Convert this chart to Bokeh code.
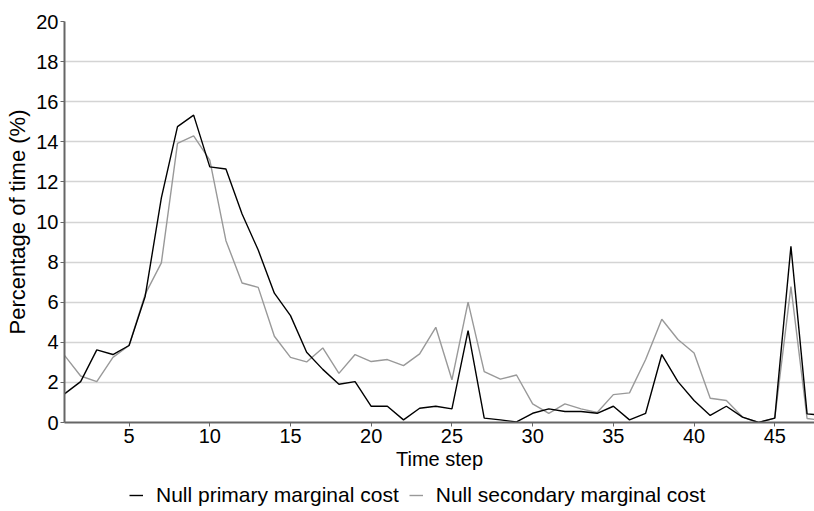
from bokeh.plotting import figure
from bokeh.models import FixedTicker, Range1d, Legend, LegendItem
from bokeh.layouts import column
from bokeh.embed import file_html
from bokeh.resources import INLINE

time_step = list(range(1, 49))
primary = [1.43, 2.04, 3.62, 3.39, 3.84, 6.3, 11.2, 14.76, 15.33, 12.75,
           12.64, 10.4, 8.6, 6.45, 5.33, 3.5, 2.65, 1.91, 2.04, 0.81,
           0.81, 0.13, 0.71, 0.81, 0.68, 4.58, 0.22, 0.13, 0.03, 0.46,
           0.68, 0.55, 0.55, 0.46, 0.81, 0.13, 0.46, 3.39, 2.04, 1.1,
           0.35, 0.81, 0.27, 0.0, 0.22, 8.79, 0.43, 0.35]
secondary = [3.35, 2.32, 2.04, 3.25, 3.84, 6.4, 7.96, 13.92, 14.3, 13.09,
             9.07, 6.96, 6.74, 4.3, 3.25, 3.02, 3.72, 2.45, 3.39, 3.04,
             3.14, 2.84, 3.42, 4.75, 2.13, 6.0, 2.54, 2.16, 2.37, 0.93,
             0.46, 0.93, 0.68, 0.5, 1.39, 1.48, 3.14, 5.15, 4.14, 3.47,
             1.21, 1.1, 0.27, 0.0, 0.22, 6.78, 0.2, 0.1]
x_ticks = [5, 10, 15, 20, 25, 30, 35, 40, 45]
y_ticks = [0, 2, 4, 6, 8, 10, 12, 14, 16, 18, 20]
series_names = ["Null primary marginal cost", "Null secondary marginal cost"]
series_colors = ["#000000", "#999999"]

FONT = "Liberation Sans"

p = figure(frame_width=750, frame_height=401, output_backend="svg",
           toolbar_location=None,
           x_range=Range1d(1, 47.46), y_range=Range1d(0, 20),
           min_border_left=64, min_border_right=0, min_border_top=21,
           min_border_bottom=0)
p.outline_line_color = None
p.background_fill_color = "white"
p.border_fill_color = "white"

r2 = p.line(time_step, secondary, line_color=series_colors[1], line_width=1.4)
r1 = p.line(time_step, primary, line_color=series_colors[0], line_width=1.4)

p.xgrid.grid_line_color = None
p.ygrid.grid_line_color = "#d4d4d4"
p.ygrid.grid_line_width = 1.5
p.ygrid.ticker = FixedTicker(ticks=y_ticks)

for ax in (p.xaxis[0], p.yaxis[0]):
    ax.axis_line_color = "#666666"
    ax.axis_line_width = 2
    ax.major_tick_line_color = "#666666"
    ax.major_tick_line_width = 1
    ax.major_tick_out = 4
    ax.major_tick_in = 0
    ax.minor_tick_line_color = None
    ax.major_label_text_font = FONT
    ax.major_label_text_font_size = "20px"
    ax.major_label_text_color = "#000000"
    ax.axis_label_text_font = FONT
    ax.axis_label_text_font_style = "normal"
    ax.axis_label_text_color = "#000000"

p.xaxis.ticker = FixedTicker(ticks=x_ticks)
p.yaxis.ticker = FixedTicker(ticks=y_ticks)
p.xaxis.axis_label = "Time step"
p.yaxis.axis_label = "Percentage of time (%)"
p.xaxis.axis_label_text_font_size = "20px"
p.yaxis.axis_label_text_font_size = "22px"
p.xaxis.major_label_standoff = 2
p.yaxis.major_label_standoff = 2
p.xaxis.axis_label_standoff = 2
p.yaxis.axis_label_standoff = 3

# legend strip below the chart; its renderers use the same series but the
# strip's ranges keep them out of view, so only the legend shows
lf = figure(width=814, height=38, output_backend="svg", toolbar_location=None,
            x_range=Range1d(-100, -99), y_range=Range1d(-100, -99),
            min_border=0)
lf.axis.visible = False
lf.grid.visible = False
lf.outline_line_color = None
lr1 = lf.line(time_step, primary, line_color=series_colors[0], line_width=1.4)
lr2 = lf.line(time_step, secondary, line_color=series_colors[1], line_width=1.4)
legend = Legend(items=[LegendItem(label=series_names[0], renderers=[lr1]),
                       LegendItem(label=series_names[1], renderers=[lr2])],
                orientation="horizontal", location=(65, 3),
                label_text_font=FONT, label_text_font_size="21px",
                label_text_color="#000000",
                glyph_width=14, glyph_height=14, spacing=10,
                label_standoff=13, padding=0, margin=0,
                border_line_color=None, background_fill_alpha=0)
lf.add_layout(legend)

layout = column(p, lf, spacing=0)
open("out.html", "w").write(file_html(layout, INLINE))
